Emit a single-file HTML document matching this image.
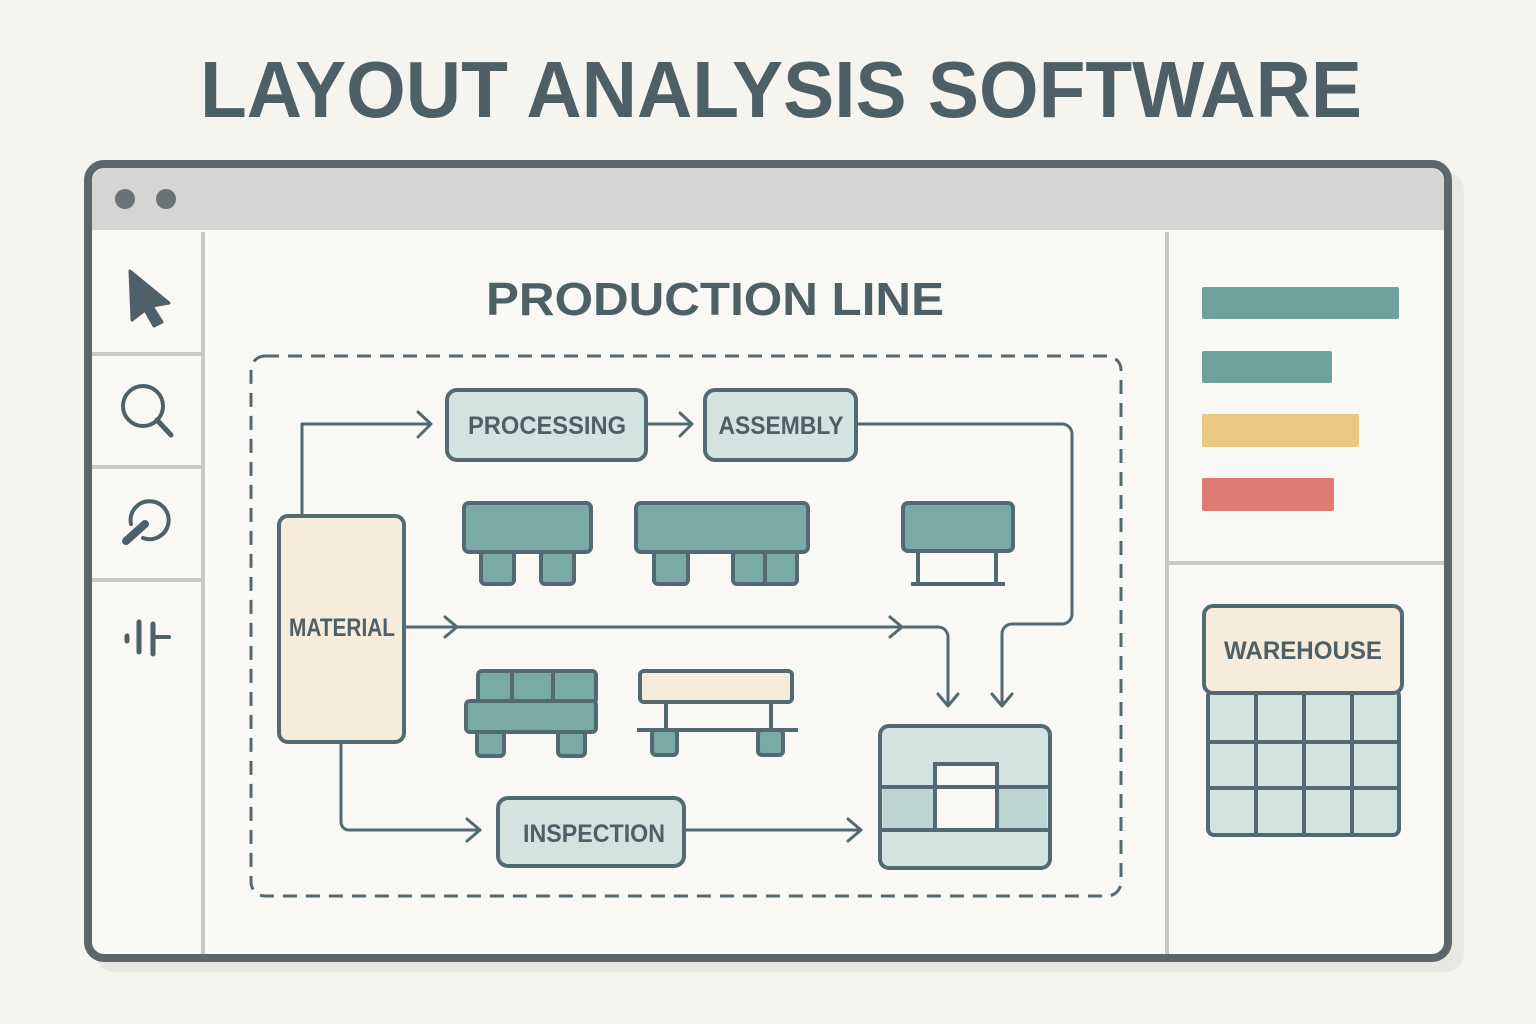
<!DOCTYPE html>
<html><head><meta charset="utf-8"><style>
html,body{margin:0;padding:0;background:#f6f4ef;}
svg{display:block;}
text{font-family:"Liberation Sans",sans-serif;}
</style></head><body>
<svg width="1536" height="1024" viewBox="0 0 1536 1024" xmlns="http://www.w3.org/2000/svg">
<rect width="1536" height="1024" fill="#f6f4ef"/>
<text x="781" y="117" text-anchor="middle" font-size="80" font-weight="bold" fill="#4f5f66" textLength="1162" lengthAdjust="spacingAndGlyphs">LAYOUT ANALYSIS SOFTWARE</text>
<!-- shadow -->
<rect x="96" y="172" width="1368" height="800" rx="18" fill="#e9e7e2"/>
<!-- window -->
<rect x="88" y="164" width="1360" height="794" rx="16" fill="#faf8f4" stroke="#5c666b" stroke-width="8"/>
<path d="M92 230 V182 a14 14 0 0 1 14 -14 H1430 a14 14 0 0 1 14 14 V230 Z" fill="#d5d5d3"/>
<circle cx="125" cy="199" r="10" fill="#6b7377"/>
<circle cx="166" cy="199" r="10" fill="#6b7377"/>
<g stroke="#c9c8c5" stroke-width="4">
<line x1="203" y1="232" x2="203" y2="954"/>
<line x1="1167" y1="232" x2="1167" y2="954"/>
<line x1="1167" y1="563" x2="1444" y2="563"/>
<line x1="92" y1="354" x2="203" y2="354"/>
<line x1="92" y1="467" x2="203" y2="467"/>
<line x1="92" y1="580" x2="203" y2="580"/>
</g>
<!-- toolbar icons -->
<path d="M130 271 L169 303 L152 306 L162 322 L154 326 L145 310 L132 320 Z" fill="#4f6168" stroke="#4f6168" stroke-width="3" stroke-linejoin="round"/>
<circle cx="143" cy="406" r="20" fill="none" stroke="#4f6168" stroke-width="4"/>
<line x1="157" y1="420" x2="171" y2="435" stroke="#4f6168" stroke-width="5" stroke-linecap="round"/>
<path d="M131 524 A19 19 0 1 1 143 538" fill="none" stroke="#4f6168" stroke-width="4" stroke-linecap="round"/>
<line x1="126" y1="541" x2="145" y2="524" stroke="#4f6168" stroke-width="8" stroke-linecap="round"/>
<g stroke="#4f6168" stroke-linecap="round">
<line x1="127" y1="636" x2="127" y2="641" stroke-width="5"/>
<line x1="139" y1="622" x2="139" y2="652" stroke-width="5"/>
<line x1="153" y1="624" x2="153" y2="654" stroke-width="5"/>
<line x1="153" y1="637" x2="169" y2="637" stroke-width="4"/>
</g>
<!-- heading -->
<text x="715" y="315" text-anchor="middle" font-size="46" fill="#4f5f66" font-weight="bold" textLength="458" lengthAdjust="spacingAndGlyphs">PRODUCTION LINE</text>
<!-- dashed box -->
<rect x="251" y="356" width="870" height="540" rx="14" fill="none" stroke="#546a72" stroke-width="3" stroke-dasharray="14 9"/>
<g fill="none" stroke="#546a72" stroke-width="3" stroke-linecap="round" stroke-linejoin="round">
<!-- material up to processing -->
<path d="M302 516 V424 H430"/><path d="M418 412 L431 424 L418 437"/>
<path d="M647 424 H690"/><path d="M680 413 L692 424 L680 436"/>
<path d="M857 424 H1062 a10 10 0 0 1 10 10 V614 a10 10 0 0 1 -10 10 H1012 a10 10 0 0 0 -10 10 V705"/>
<path d="M992 694 L1002 706 L1012 694"/>
<path d="M405 627 H938 a10 10 0 0 1 10 10 V705"/>
<path d="M445 617 L457 627 L445 637"/><path d="M890 617 L902 627 L890 637"/>
<path d="M938 694 L948 706 L958 694"/>
<path d="M341 743 V822 a8 8 0 0 0 8 8 H480"/><path d="M467 819 L480 830 L467 841"/>
<path d="M685 830 H860"/><path d="M848 819 L861 830 L848 841"/>
</g>
<!-- nodes -->
<g stroke="#546a72" stroke-width="4">
<rect x="447" y="390" width="199" height="70" rx="10" fill="#d3e3e0"/>
<rect x="705" y="390" width="151" height="70" rx="10" fill="#d3e3e0"/>
<rect x="279" y="516" width="125" height="226" rx="9" fill="#f5ecdc"/>
<rect x="498" y="798" width="186" height="68" rx="10" fill="#d3e3e0"/>
</g>
<g font-size="25" fill="#4f5f66" font-weight="bold" text-anchor="middle">
<text x="547" y="434" textLength="158" lengthAdjust="spacingAndGlyphs">PROCESSING</text>
<text x="781" y="434" textLength="125" lengthAdjust="spacingAndGlyphs">ASSEMBLY</text>
<text x="342" y="636" textLength="106" lengthAdjust="spacingAndGlyphs">MATERIAL</text>
<text x="594" y="842" textLength="142" lengthAdjust="spacingAndGlyphs">INSPECTION</text>
</g>
<!-- machines -->
<g stroke="#546a72" stroke-width="4" fill="#7aaaa6">
<rect x="481" y="550" width="33" height="34" rx="4"/><rect x="541" y="550" width="33" height="34" rx="4"/>
<rect x="464" y="503" width="127" height="49" rx="5"/>
<rect x="654" y="550" width="34" height="34" rx="4"/><rect x="733" y="550" width="64" height="34" rx="4"/>
<line x1="765" y1="552" x2="765" y2="584"/>
<rect x="636" y="503" width="172" height="49" rx="5"/>
<rect x="903" y="503" width="110" height="48" rx="5"/>
<line x1="918" y1="551" x2="918" y2="584" fill="none"/><line x1="996" y1="551" x2="996" y2="584" fill="none"/>
<line x1="911" y1="584" x2="1005" y2="584"/>
<rect x="477" y="731" width="27" height="25" rx="4"/><rect x="558" y="731" width="27" height="25" rx="4"/>
<rect x="478" y="671" width="118" height="32" rx="4"/>
<line x1="512" y1="671" x2="512" y2="703"/><line x1="553" y1="671" x2="553" y2="703"/>
<rect x="466" y="701" width="130" height="31" rx="4"/>
<rect x="652" y="730" width="25" height="25" rx="4"/><rect x="758" y="730" width="25" height="25" rx="4"/>
<line x1="637" y1="730" x2="798" y2="730"/>
<line x1="666" y1="702" x2="666" y2="730"/><line x1="771" y1="702" x2="771" y2="730"/>
<rect x="640" y="671" width="152" height="31" rx="4" fill="#f5ecdc"/>
</g>
<!-- destination station -->
<g stroke="#546a72" stroke-width="4">
<rect x="880" y="726" width="170" height="142" rx="9" fill="#d3e3e0"/>
<rect x="883" y="787" width="164" height="44" fill="#bcd5d1" stroke="none"/>
<line x1="882" y1="787" x2="1048" y2="787"/><line x1="882" y1="830" x2="1048" y2="830"/>
<rect x="935" y="764" width="62" height="66" fill="#faf8f4"/>
<line x1="935" y1="787" x2="997" y2="787"/>
</g>
<!-- right panel bars -->
<rect x="1202" y="287" width="197" height="32" rx="2" fill="#6fa19d"/>
<rect x="1202" y="351" width="130" height="32" rx="2" fill="#6fa19d"/>
<rect x="1202" y="414" width="157" height="33" rx="2" fill="#ecc983"/>
<rect x="1202" y="478" width="132" height="33" rx="2" fill="#de7a72"/>
<!-- warehouse -->
<g stroke="#546a72" stroke-width="4" fill="#d3e3e0">
<rect x="1208" y="690" width="191" height="145" rx="6"/>
<line x1="1256" y1="692" x2="1256" y2="835"/><line x1="1304" y1="692" x2="1304" y2="835"/><line x1="1352" y1="692" x2="1352" y2="835"/>
<line x1="1208" y1="742" x2="1399" y2="742"/><line x1="1208" y1="788" x2="1399" y2="788"/>
<rect x="1204" y="606" width="198" height="87" rx="9" fill="#f5ecdc"/>
</g>
<text x="1303" y="659" text-anchor="middle" font-size="25" font-weight="bold" fill="#4f5f66" textLength="158" lengthAdjust="spacingAndGlyphs">WAREHOUSE</text>
</svg>
</body></html>
